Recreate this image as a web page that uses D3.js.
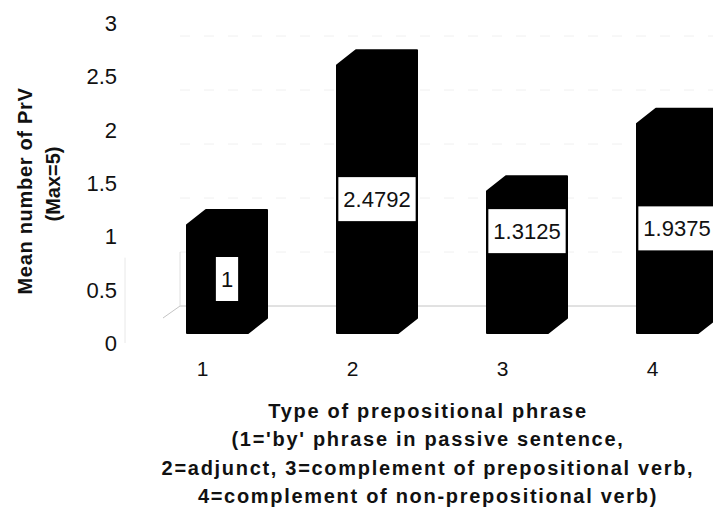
<!DOCTYPE html>
<html>
<head>
<meta charset="utf-8">
<script src="https://cdn.jsdelivr.net/npm/d3@7"></script>
<style>
  html, body { margin: 0; padding: 0; background: #fff; }
  svg { display: block; }
  text { font-family: "Liberation Sans", Arial, sans-serif; fill: #111; }
</style>
</head>
<body>
<div id="chart"></div>
<script>
// Mean number of PrV by type of prepositional phrase
const categories = ["1", "2", "3", "4"];
const meanPrV = [1, 2.4792, 1.3125, 1.9375];
const valueTicks = [0, 0.5, 1, 1.5, 2, 2.5, 3];
const gridValues = [0, 0.5, 1, 1.5, 2, 2.5, 3];
const yTitleLines = ["Mean number of PrV", "(Max=5)"];
const xTitleLines = [
  "Type of prepositional phrase",
  "(1='by' phrase in passive sentence,",
  "2=adjunct, 3=complement of prepositional verb,",
  "4=complement of non-prepositional verb)"
];

const W = 713, H = 509;
const svg = d3.select("#chart").append("svg")
  .attr("width", W).attr("height", H);

// 3D projection: bars have a front face and a receding depth offset
const depthX = 19, depthY = 15;
const barWidth = 61;

const x = d3.scalePoint().domain(categories).range([217.5, 667.5]);
const yBar = d3.scaleLinear().domain([0, 3]).range([333, 9]);      // front face
const yBack = d3.scaleLinear().domain([0, 3]).range([306, -18]);   // back wall
const yAxis = d3.scaleLinear().domain([0, 3]).range([343, 23]);    // value axis labels

// back wall gridlines (very faint)
svg.append("g").selectAll("line")
  .data(gridValues.filter(v => v > 0))
  .join("line")
  .attr("x1", 180).attr("x2", W)
  .attr("y1", d => yBack(d)).attr("y2", d => yBack(d))
  .attr("stroke", "#f0f0f0").attr("stroke-width", 1)
  .attr("stroke-dasharray", "10,14");

// floor edge and left wall edge
const frame = svg.append("g").attr("stroke", "#c4c4c4").attr("fill", "none");
frame.append("line").attr("x1", 180).attr("x2", W)
  .attr("y1", yBack(0)).attr("y2", yBack(0));
frame.append("line").attr("x1", 180 - depthX + 2).attr("y1", yBack(0) + depthY - 3)
  .attr("x2", 180).attr("y2", yBack(0));
frame.append("line").attr("x1", 180).attr("x2", 180)
  .attr("y1", yBack(0)).attr("y2", yBack(0.5))
  .attr("stroke", "#dedede");

// value axis line (faint)
svg.append("line")
  .attr("x1", 125).attr("x2", 125)
  .attr("y1", yAxis(0)).attr("y2", yAxis(0.8))
  .attr("stroke", "#e8e8e8");

// value axis tick labels
svg.append("g").selectAll("text")
  .data(valueTicks)
  .join("text")
  .attr("x", 117)
  .attr("y", d => yAxis(d))
  .attr("dy", "0.36em")
  .attr("text-anchor", "end")
  .attr("font-size", 22)
  .text(d => d3.format("")(d));

// bars as extruded prisms (front + top + side silhouettes)
function prism(d, i) {
  const cx = x(categories[i]);
  const x0 = cx - barWidth / 2, x1 = cx + barWidth / 2;
  const yb = yBar(0), yt = yBar(d);
  return d3.line()([
    [x0, yb], [x0, yt], [x0 + depthX, yt - depthY], [x1 + depthX, yt - depthY],
    [x1 + depthX, yb - depthY], [x1, yb]
  ]) + "Z";
}

svg.append("g").selectAll("path")
  .data(meanPrV)
  .join("path")
  .attr("d", prism)
  .attr("fill", "#000")
  .attr("stroke", "#000")
  .attr("stroke-width", 2)
  .attr("stroke-linejoin", "round");

// category labels
svg.append("g").selectAll("text")
  .data(categories)
  .join("text")
  .attr("x", d => x(d) - 15)
  .attr("y", 368)
  .attr("dy", "0.36em")
  .attr("text-anchor", "middle")
  .attr("font-size", 21)
  .text(d => d);

// value labels in white boxes
const labelNudge = { "3": -31 };
const labels = svg.append("g").selectAll("g")
  .data(meanPrV)
  .join("g")
  .attr("transform", (d, i) => {
    const c = categories[i];
    const lx = x(c) + depthX / 2;
    const ly = yBar(d / 2) + (labelNudge[c] || 0);
    return `translate(${lx},${ly})`;
  });
labels.append("text")
  .attr("text-anchor", "middle")
  .attr("dy", "0.36em")
  .attr("font-size", 22)
  .text(d => String(d));
labels.insert("rect", "text")
  .each(function () {
    const t = this.parentNode.querySelector("text");
    const w = t.getComputedTextLength() + 10;
    d3.select(this)
      .attr("x", -w / 2).attr("y", -22)
      .attr("width", w).attr("height", 44);
  })
  .attr("fill", "#fff");

// value axis title
svg.append("g").selectAll("text")
  .data(yTitleLines)
  .join("text")
  .attr("transform", (d, i) => `translate(${i === 0 ? 25 : 53},${i === 0 ? 191 : 184}) rotate(-90)`)
  .attr("text-anchor", "middle")
  .attr("dy", "0.36em")
  .attr("font-size", 20)
  .attr("font-weight", "bold")
  .attr("letter-spacing", (d, i) => i === 0 ? 0.7 : 0)
  .text(d => d);

// category axis title
svg.append("g").selectAll("text")
  .data(xTitleLines)
  .join("text")
  .attr("x", 428)
  .attr("y", (d, i) => 418 + i * 28.3)
  .attr("text-anchor", "middle")
  .attr("font-size", 20)
  .attr("font-weight", "bold")
  .attr("letter-spacing", 1.7)
  .text(d => d);
</script>
</body>
</html>
